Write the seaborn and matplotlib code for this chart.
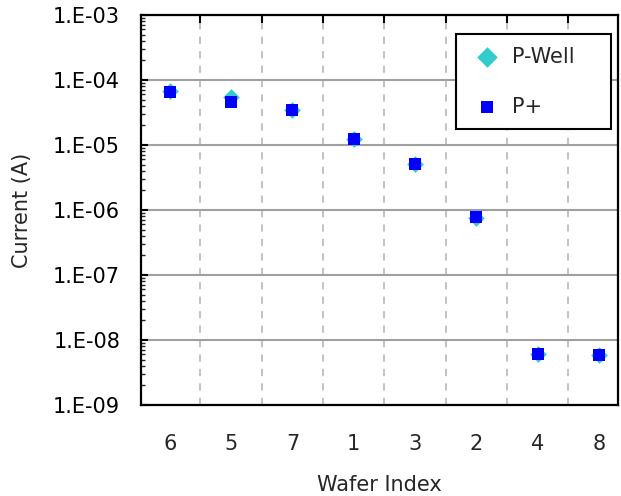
import matplotlib
matplotlib.use("Agg")
import matplotlib.pyplot as plt
import matplotlib.ticker as mticker
import numpy as np
import pandas as pd
import seaborn as sns

# Wafers sorted by decreasing leakage current
wafers = ["6", "5", "7", "1", "3", "2", "4", "8"]
pwell_current = [6.8e-5, 5.4e-5, 3.5e-5, 1.25e-5, 5.1e-6, 7.6e-7, 6.0e-9, 5.9e-9]
pplus_current = [6.5e-5, 4.6e-5, 3.45e-5, 1.24e-5, 5.1e-6, 7.8e-7, 6.0e-9, 5.9e-9]

df = pd.DataFrame({
    "wafer": wafers * 2,
    "current": pwell_current + pplus_current,
    "region": ["P-Well"] * len(wafers) + ["P+"] * len(wafers),
})

sns.set_theme(style="white")
plt.rcParams["font.family"] = ["DejaVu Sans"]

fig = plt.figure(figsize=(6.21, 4.96), dpi=100)
ax = fig.add_axes([141 / 621, 1 - 405 / 496, 477 / 621, 390 / 496])

sns.scatterplot(data=df[df.region == "P-Well"], x="wafer", y="current",
                marker="D", s=72, color="#33CCCC", linewidth=0,
                label="P-Well", ax=ax, zorder=3)
sns.scatterplot(data=df[df.region == "P+"], x="wafer", y="current",
                marker="s", s=70, color="#0000FF", linewidth=0,
                label="P+", ax=ax, zorder=4)

ax.set_yscale("log")
ax.set_ylim(1e-9, 1e-3)
ax.set_xlim(-0.47, 7.31)

ax.yaxis.set_major_locator(mticker.LogLocator(base=10, numticks=10))
ax.yaxis.set_minor_locator(mticker.LogLocator(base=10, subs=np.arange(2, 10), numticks=20))
ax.yaxis.set_minor_formatter(mticker.NullFormatter())
ax.yaxis.set_major_formatter(mticker.FuncFormatter(
    lambda v, p: "1.E-%02d" % int(round(-np.log10(v)))))

ax.set_xticks(range(len(wafers)))
ax.set_xticklabels(wafers)
ax.set_xticks(np.arange(0.5, len(wafers) - 0.5, 1.0), minor=True)

# Decade gridlines and dashed separators between wafers
ax.grid(axis="y", which="major", color="#a0a0a0", linewidth=1.5, linestyle="-")
ax.grid(axis="x", which="minor", color="#bdbdbd", linewidth=1.3, linestyle=(0, (4, 4)))
ax.grid(axis="x", which="major", visible=False)
ax.set_axisbelow(True)

ax.tick_params(axis="y", which="major", direction="in", length=5, width=1.5,
               left=True, right=False, labelsize=15, pad=15, colors="black")
ax.tick_params(axis="y", which="minor", direction="in", length=3, width=1,
               left=True, right=False)
ax.tick_params(axis="x", which="major", length=0, labelsize=15, pad=21)
ax.tick_params(axis="x", which="minor", direction="in", length=6, width=1.5,
               top=True, bottom=False, color="black")

for sp in ax.spines.values():
    sp.set_color("black")
    sp.set_linewidth(1.6)
    sp.set_visible(True)

ax.set_xlabel("Wafer Index", fontsize=15, labelpad=15)
ax.set_ylabel("Current (A)", fontsize=15, labelpad=15)

leg = ax.legend(loc="upper left", bbox_to_anchor=(0.660, 0.951, 0.325, 0.0),
                mode="expand", borderaxespad=0,
                fontsize=15, frameon=True, fancybox=False, edgecolor="black",
                labelspacing=1.45, handletextpad=0.3, borderpad=0.6,
                handlelength=1.8, markerscale=1.0)
leg.get_frame().set_linewidth(1.5)
leg.get_frame().set_alpha(1)
for handle, size in zip(leg.legend_handles, [110, 66]):
    handle.set_sizes([size])

fig.savefig("out.png", dpi=100)
